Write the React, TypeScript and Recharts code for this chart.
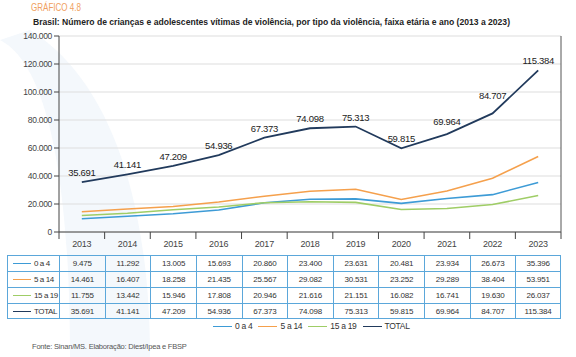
import { CartesianGrid, LabelList, Line, LineChart, XAxis, YAxis } from 'recharts';

const years = ['2013', '2014', '2015', '2016', '2017', '2018', '2019', '2020', '2021', '2022', '2023'];
const age0to4 = [9475, 11292, 13005, 15693, 20860, 23400, 23631, 20481, 23934, 26673, 35396];
const age5to14 = [14461, 16407, 18258, 21435, 25567, 29082, 30531, 23252, 29289, 38404, 53951];
const age15to19 = [11755, 13442, 15946, 17808, 20946, 21616, 21151, 16082, 16741, 19630, 26037];
const total = [35691, 41141, 47209, 54936, 67373, 74098, 75313, 59815, 69964, 84707, 115384];
const yTicks = [0, 20000, 40000, 60000, 80000, 100000, 120000, 140000];

const SERIES = [
  { key: 'a', name: '0 a 4', color: '#3d9bd6', values: age0to4, width: 1.6 },
  { key: 'b', name: '5 a 14', color: '#f5a04c', values: age5to14, width: 1.6 },
  { key: 'c', name: '15 a 19', color: '#9fcd66', values: age15to19, width: 1.6 },
  { key: 't', name: 'TOTAL', color: '#213a5c', values: total, width: 1.8 },
];

const data = years.map((year, i) => {
  const row: Record<string, string | number> = { year };
  SERIES.forEach((s) => (row[s.key] = s.values[i]));
  return row;
});

const FONT = "'Liberation Sans', Arial, sans-serif";
const W = 576;
const H = 357;
const PLOT_LEFT = 59;
const PLOT_RIGHT = 561;
const PLOT_TOP = 36;
const PLOT_BOTTOM = 232;
const BAND = (PLOT_RIGHT - PLOT_LEFT) / years.length;
const TABLE_TOP = 255;
const ROW_H = 16;
const TABLE_LEFT = 7;
const BORDER = '#5ba7da';
// extra lift for labels that sit further from the line in the original
const LABEL_LIFT: Record<number, number> = { 8: 3, 9: 8 };

const fmt = (n: number) => String(n).replace(/\B(?=(\d{3})+(?!\d))/g, '.');

function XTick(props: any) {
  const { x, payload, index } = props;
  return (
    <g>
      <line x1={x + BAND / 2} x2={x + BAND / 2} y1={PLOT_BOTTOM} y2={PLOT_BOTTOM + 7} stroke="#444" />
      {index === 0 && (
        <line x1={x - BAND / 2} x2={x - BAND / 2} y1={PLOT_BOTTOM} y2={PLOT_BOTTOM + 7} stroke="#444" />
      )}
      <text x={x} y={PLOT_BOTTOM + 15} textAnchor="middle" fontSize={9} letterSpacing={-0.2} fill="#444" fontFamily={FONT}>
        {payload.value}
      </text>
    </g>
  );
}

function TotalLabel(props: any) {
  const { x, y, value, index } = props;
  const lift = LABEL_LIFT[index] || 0;
  return (
    <text x={x} y={y - 6 - lift} textAnchor="middle" fontSize={9.5} letterSpacing={-0.3} fill="#222" fontFamily={FONT}>
      {fmt(Number(value))}
    </text>
  );
}

export default function App() {
  return (
    <div style={{ position: 'absolute', left: 0, top: 0, width: W, height: H, background: '#fff', fontFamily: FONT, overflow: 'hidden' }}>
      <svg width={W} height={H} style={{ position: 'absolute', left: 0, top: 0 }}>
        <path d="M0 40 C40 60 70 150 70 357 L150 357 C150 200 110 80 30 30 Z" fill="#f4f8fc" />
        <text x={31} y={11} fontSize={10.5} fill="#f0a060" fontFamily={FONT} textLength={50} lengthAdjust="spacingAndGlyphs">
          GRÁFICO 4.8
        </text>
        <text x={33} y={25} fontSize={9.5} fontWeight="bold" fill="#222" fontFamily={FONT} textLength={477} lengthAdjust="spacingAndGlyphs">
          Brasil: Número de crianças e adolescentes vítimas de violência, por tipo da violência, faixa etária e ano (2013 a 2023)
        </text>
      </svg>

      <div style={{ position: 'absolute', left: 0, top: 0 }}>
        <LineChart
          width={W}
          height={H}
          data={data}
          margin={{ top: PLOT_TOP, left: 9, right: W - PLOT_RIGHT - 1, bottom: H - PLOT_BOTTOM - 30 }}
        >
          <CartesianGrid vertical={false} stroke="#dedede" strokeWidth={1.2} />
          <XAxis
            dataKey="year"
            padding={{ left: BAND / 2, right: BAND / 2 }}
            height={30}
            tickLine={false}
            axisLine={{ stroke: '#444' }}
            tick={<XTick />}
            interval={0}
          />
          <XAxis xAxisId="top" orientation="top" dataKey="year" height={0} tick={false} tickLine={false} axisLine={{ stroke: '#555' }} />
          <YAxis
            width={50}
            domain={[0, 140000]}
            ticks={yTicks}
            tickFormatter={fmt}
            tick={{ fontSize: 8.5, fill: '#444', fontFamily: FONT, letterSpacing: -0.3 }}
            tickLine={{ stroke: '#444' }}
            tickSize={5}
            axisLine={{ stroke: '#444' }}
          />
          <YAxis yAxisId="right" orientation="right" width={1} tick={false} tickLine={false} axisLine={{ stroke: '#555' }} domain={[0, 140000]} />
          {SERIES.map((s) => (
            <Line
              key={s.key}
              dataKey={s.key}
              name={s.name}
              stroke={s.color}
              strokeWidth={s.width}
              dot={false}
              type="linear"
              isAnimationActive={false}
            >
              {s.key === 't' && <LabelList dataKey="t" content={<TotalLabel />} />}
            </Line>
          ))}
        </LineChart>
      </div>

      <div style={{ position: 'absolute', left: TABLE_LEFT, top: TABLE_TOP }}>
        {SERIES.map((s, r) => (
          <div key={s.key} style={{ display: 'flex', height: ROW_H }}>
            <div
              style={{
                width: PLOT_LEFT - TABLE_LEFT,
                boxSizing: 'border-box',
                borderLeft: `1px solid ${BORDER}`,
                borderTop: `1px solid ${BORDER}`,
                borderBottom: r === SERIES.length - 1 ? `1px solid ${BORDER}` : undefined,
                display: 'flex',
                alignItems: 'center',
                fontSize: 8,
                letterSpacing: -0.4,
                whiteSpace: 'nowrap',
                color: '#333',
              }}
            >
              <span style={{ display: 'inline-block', width: 18, height: 0, borderTop: `1.5px solid ${s.color}`, margin: '0 3px 0 5px' }} />
              {s.name}
            </div>
            {s.values.map((v, i) => (
              <div
                key={i}
                style={{
                  width: BAND,
                  boxSizing: 'border-box',
                  borderLeft: `1px solid ${BORDER}`,
                  borderRight: i === s.values.length - 1 ? `1px solid ${BORDER}` : undefined,
                  borderTop: `1px solid ${BORDER}`,
                  borderBottom: r === SERIES.length - 1 ? `1px solid ${BORDER}` : undefined,
                  display: 'flex',
                  alignItems: 'center',
                  justifyContent: 'center',
                  fontSize: 8,
                  letterSpacing: -0.2,
                  color: '#333',
                }}
              >
                {fmt(v)}
              </div>
            ))}
          </div>
        ))}
      </div>

      <div style={{ position: 'absolute', left: 213, top: 321, display: 'flex', alignItems: 'center', fontSize: 8.5, letterSpacing: -0.3, color: '#333', whiteSpace: 'nowrap' }}>
        {SERIES.map((s) => (
          <div key={s.key} style={{ display: 'flex', alignItems: 'center', marginRight: 6 }}>
            <span style={{ display: 'inline-block', width: 19, height: 0, borderTop: `1.6px solid ${s.color}`, marginRight: 3 }} />
            {s.name}
          </div>
        ))}
      </div>

      <div style={{ position: 'absolute', left: 32, top: 342, fontSize: 7.5, letterSpacing: -0.2, color: '#555', whiteSpace: 'nowrap' }}>
        Fonte: Sinan/MS. Elaboração: Diest/Ipea e FBSP
      </div>
    </div>
  );
}
